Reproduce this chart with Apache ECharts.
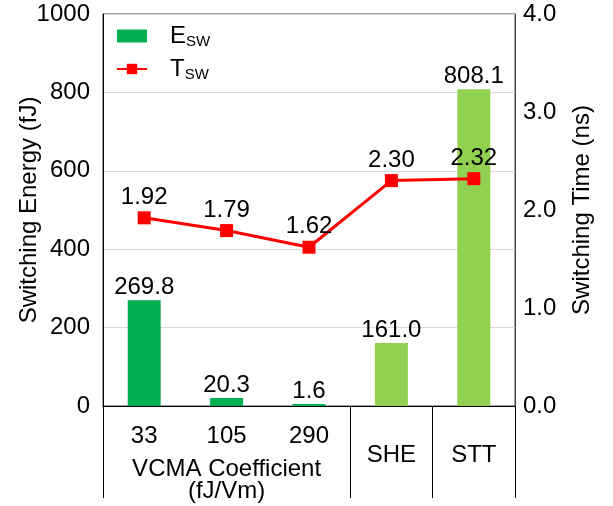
<!DOCTYPE html>
<html>
<head>
<meta charset="utf-8">
<script src="https://cdn.jsdelivr.net/npm/echarts@6/dist/echarts.min.js"></script>
<style>
  html, body { margin: 0; padding: 0; background: #fff; }
  #chart { width: 613px; height: 506px; }
</style>
</head>
<body>
<div id="chart"></div>
<script>
// categories and values
const categories = ['33', '105', '290', 'SHE', 'STT'];
const energy = [269.8, 20.3, 1.6, 161.0, 808.1];   // fJ, left axis
const swTime = [1.92, 1.79, 1.62, 2.30, 2.32];     // ns, right axis
const groupBounds = [0, 3, 4, 5];                   // separators below the axis
const groupLabel = 'VCMA Coefficient\n(fJ/Vm)';
const vcmaCount = 3;

const FONT = '"Liberation Sans", Arial, sans-serif';
const FS = 24;
const DARK_GREEN = '#00b050';
const LIGHT_GREEN = '#92d050';

const chart = echarts.init(document.getElementById('chart'));

const option = {
  backgroundColor: '#fff',
  animation: false,
  textStyle: { fontFamily: FONT, color: '#000' },
  grid: {
    left: 103, right: 98, top: 14, bottom: 100,
    outerBoundsMode: 'none',
    containLabel: false,
    show: true, borderColor: '#404040', borderWidth: 1
  },
  legend: {
    orient: 'vertical',
    left: 116, top: 24,
    padding: 0,
    itemWidth: 30, itemHeight: 13,
    itemGap: 8,
    textStyle: {
      fontFamily: FONT, color: '#000', padding: [0, 0, 0, 18],
      rich: {
        m: { fontSize: FS, lineHeight: 26, fontFamily: FONT, color: '#000' },
        s: { fontSize: 15, lineHeight: 15, verticalAlign: 'bottom', fontFamily: FONT, color: '#000' }
      }
    },
    formatter: function (name) {
      return '{m|' + name.charAt(0) + '}{s|' + name.slice(1) + '}';
    },
    data: [
      { name: 'ESW', icon: 'rect', itemStyle: { color: DARK_GREEN } },
      { name: 'TSW' }
    ]
  },
  xAxis: [
    {
      type: 'category',
      data: categories,
      axisLine: { lineStyle: { color: '#000', width: 1 } },
      axisTick: { show: false },
      axisLabel: {
        interval: 0,
        hideOverlap: false,
        margin: 18,
        fontSize: FS,
        color: '#000',
        formatter: function (v, i) {
          return i < vcmaCount ? '{a|' + v + '}' : '{b|' + v + '}';
        },
        rich: {
          a: { fontSize: FS, fontFamily: FONT, color: '#000' },
          b: { fontSize: FS, fontFamily: FONT, color: '#000', padding: [19, 0, 0, 0] }
        }
      }
    },
    {
      type: 'value',
      min: 0, max: categories.length,
      position: 'bottom',
      axisLine: { show: false },
      splitLine: { show: false },
      axisTick: {
        show: true, customValues: groupBounds, length: 92,
        lineStyle: { color: '#000', width: 1 }
      },
      axisLabel: {
        customValues: [vcmaCount / 2],
        formatter: function () { return groupLabel; },
        margin: 52,
        fontSize: FS,
        lineHeight: 22,
        color: '#000'
      }
    }
  ],
  yAxis: [
    {
      type: 'value',
      min: 0, max: 1000, interval: 200,
      name: 'Switching Energy (fJ)',
      nameLocation: 'middle',
      nameRotate: 90,
      nameGap: 62,
      nameMoveOverlap: false,
      nameTextStyle: { fontSize: FS, color: '#000' },
      axisLine: { show: true, lineStyle: { color: '#000' } },
      axisTick: { show: false },
      axisLabel: {
        fontSize: FS, color: '#000', margin: 13,
        formatter: function (v) { return String(v); }
      },
      splitLine: { lineStyle: { color: '#d9d9d9', width: 1 } }
    },
    {
      type: 'value',
      min: 0, max: 4, interval: 1,
      position: 'right',
      name: 'Switching Time (ns)',
      nameLocation: 'middle',
      nameRotate: 90,
      nameGap: 55,
      nameMoveOverlap: false,
      nameTextStyle: { fontSize: FS, color: '#000' },
      axisLine: { show: true, lineStyle: { color: '#404040' } },
      axisTick: { show: false },
      axisLabel: {
        fontSize: FS, color: '#000', margin: 8,
        formatter: function (v) { return v.toFixed(1); }
      },
      splitLine: { show: false }
    }
  ],
  series: [
    {
      name: 'ESW',
      type: 'bar',
      barWidth: '40%',
      barMinHeight: 2,
      data: energy.map(function (v, i) {
        return { value: v, itemStyle: { color: i < vcmaCount ? DARK_GREEN : LIGHT_GREEN } };
      }),
      label: {
        show: true, position: 'top', distance: 1,
        fontSize: FS, color: '#000',
        formatter: function (p) { return p.value.toFixed(1); }
      },
      z: 2
    },
    {
      name: 'TSW',
      type: 'line',
      yAxisIndex: 1,
      data: swTime,
      symbol: 'rect',
      symbolSize: 13,
      itemStyle: { color: '#ff0000' },
      lineStyle: { color: '#ff0000', width: 3 },
      label: {
        show: true, position: 'top', distance: 2,
        fontSize: FS, color: '#000',
        formatter: function (p) { return p.value.toFixed(2); }
      },
      z: 3
    }
  ]
};

chart.setOption(option);
</script>
</body>
</html>
